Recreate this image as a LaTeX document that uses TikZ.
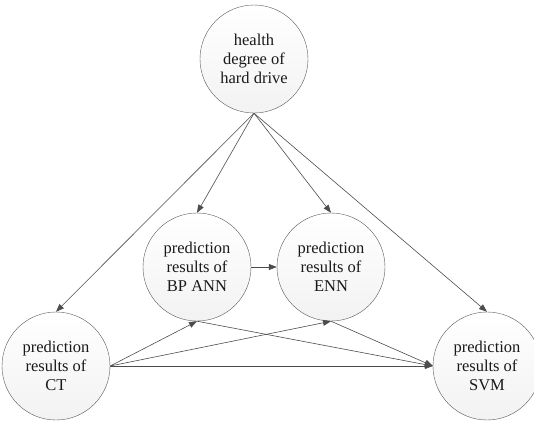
\documentclass[tikz,border=0pt]{standalone}
\usepackage{fontspec}
\setmainfont{Liberation Serif}
\usetikzlibrary{arrows.meta}

\begin{document}
\begin{tikzpicture}[x=1pt, y=-1pt,
	every node/.style={draw=black!65, shape=circle, minimum size=108pt, inner sep=0pt,
		top color=white, bottom color=black!5, text=black!90, align=center,
		font=\fontsize{16.5}{19}\selectfont},
	link/.style={draw=black!70, line width=0.6pt, -{Triangle[length=8pt,width=6pt]}}]
		\useasboundingbox (0,0) rectangle (534,424);
		\path (254,59) node (hd) {health\\degree of\\hard drive}
		(197,267) node (bp) {prediction\\results of\\BP ANN}
		(331,267) node (enn) {prediction\\results of\\ENN}
		(56,366) node (ct) {prediction\\results of\\CT}
		(487,366) node (svm) {prediction\\results of\\SVM};

		\draw[link] (hd.south) -- (ct.north);
		\draw[link] (hd.south) -- (bp.north);
		\draw[link] (hd.south) -- (enn.north);
		\draw[link] (hd.south) -- (svm.north);
		\draw[link] (bp.east) -- (enn.west);
		\draw[link] (ct.east) -- (bp.south);
		\draw[link] (ct.east) -- (enn.south);
		\draw[link] (ct.east) -- (svm.west);
		\draw[link] (bp.south) -- (svm.west);
		\draw[link] (enn.south) -- (svm.west);
	\end{tikzpicture}
\end{document}
